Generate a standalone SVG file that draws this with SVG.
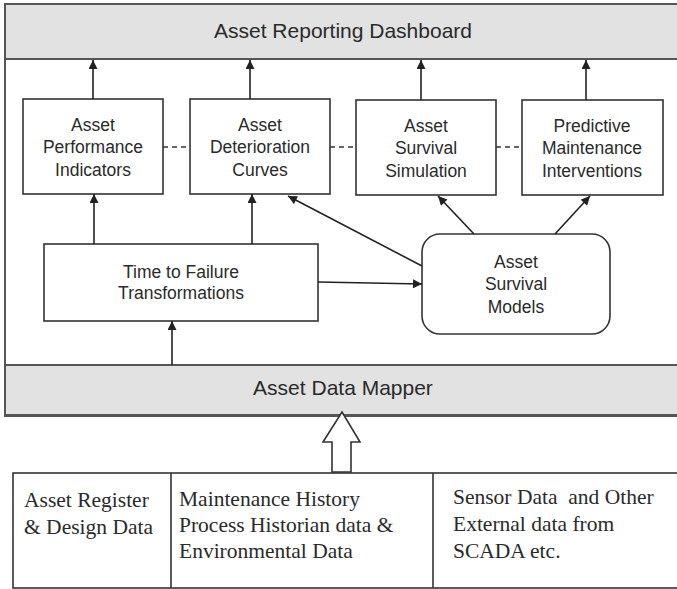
<svg xmlns="http://www.w3.org/2000/svg" width="677" height="589" viewBox="0 0 677 589">
  <style>
    .band { fill: #e2e2e2; stroke: #555; stroke-width: 2; }
    .frame { fill: #fff; stroke: #555; stroke-width: 2; }
    .box { fill: #fff; stroke: #333; stroke-width: 1.6; }
    .link { stroke: #222; stroke-width: 1.6; fill: none; }
    .dash { stroke: #333; stroke-width: 1.6; stroke-dasharray: 5 4; fill: none; }
    .sans { font-family: "Liberation Sans", Arial, sans-serif; fill: #2a2a2a; text-anchor: middle; }
    .band-label { font-size: 21px; }
    .node-label { font-size: 17.5px; }
    .serif { font-family: "Liberation Serif", "Times New Roman", serif; font-size: 21.5px; fill: #2a2a2a; white-space: pre; }
  </style>
  <defs>
    <marker id="arrow" viewBox="0 0 10 10" refX="10" refY="5" markerWidth="10" markerHeight="9" markerUnits="userSpaceOnUse" orient="auto">
      <path d="M0,0 L10,5 L0,10 z" fill="#222"/>
    </marker>
  </defs>

  <rect width="677" height="589" fill="#fff"/>

  <!-- outer platform frame -->
  <rect class="frame" x="5" y="4" width="700" height="412"/>

  <g id="dashboard">
    <rect class="band" x="5" y="4" width="700" height="55"/>
    <text class="sans band-label" x="343" y="38">Asset Reporting Dashboard</text>
  </g>

  <g id="data-mapper">
    <rect class="band" x="5" y="365" width="700" height="50"/>
    <text class="sans band-label" x="343" y="395">Asset Data Mapper</text>
  </g>

  <g id="performance-indicators">
    <rect class="box" x="23" y="99" width="140" height="95"/>
    <text class="sans node-label" x="93" y="131">Asset</text>
    <text class="sans node-label" x="93" y="153">Performance</text>
    <text class="sans node-label" x="93" y="176">Indicators</text>
  </g>

  <g id="deterioration-curves">
    <rect class="box" x="190" y="99" width="140" height="95"/>
    <text class="sans node-label" x="260" y="131">Asset</text>
    <text class="sans node-label" x="260" y="153">Deterioration</text>
    <text class="sans node-label" x="260" y="176">Curves</text>
  </g>

  <g id="survival-simulation">
    <rect class="box" x="356" y="100" width="140" height="95"/>
    <text class="sans node-label" x="426" y="132">Asset</text>
    <text class="sans node-label" x="426" y="154">Survival</text>
    <text class="sans node-label" x="426" y="177">Simulation</text>
  </g>

  <g id="predictive-maintenance">
    <rect class="box" x="522" y="100" width="141" height="95"/>
    <text class="sans node-label" x="592" y="132">Predictive</text>
    <text class="sans node-label" x="592" y="154">Maintenance</text>
    <text class="sans node-label" x="592" y="177">Interventions</text>
  </g>

  <g id="time-to-failure">
    <rect class="box" x="44" y="244" width="274" height="77"/>
    <text class="sans node-label" x="181" y="278">Time to Failure</text>
    <text class="sans node-label" x="181" y="299">Transformations</text>
  </g>

  <g id="survival-models">
    <rect class="box" x="422" y="234" width="188" height="100" rx="18" ry="18"/>
    <text class="sans node-label" x="516" y="268">Asset</text>
    <text class="sans node-label" x="516" y="290">Survival</text>
    <text class="sans node-label" x="516" y="313">Models</text>
  </g>

  <g id="connectors">
    <!-- up to the dashboard -->
    <line class="link" x1="93" y1="99" x2="93" y2="60" marker-end="url(#arrow)"/>
    <line class="link" x1="250" y1="99" x2="250" y2="60" marker-end="url(#arrow)"/>
    <line class="link" x1="421" y1="100" x2="421" y2="60" marker-end="url(#arrow)"/>
    <line class="link" x1="586" y1="100" x2="586" y2="60" marker-end="url(#arrow)"/>
    <!-- dashed peer links -->
    <line class="dash" x1="163" y1="147" x2="190" y2="147"/>
    <line class="dash" x1="330" y1="147" x2="356" y2="147"/>
    <line class="dash" x1="496" y1="147" x2="522" y2="147"/>
    <!-- transformations feed -->
    <line class="link" x1="94" y1="244" x2="94" y2="194" marker-end="url(#arrow)"/>
    <line class="link" x1="252" y1="244" x2="252" y2="194" marker-end="url(#arrow)"/>
    <line class="link" x1="172" y1="365" x2="172" y2="321" marker-end="url(#arrow)"/>
    <line class="link" x1="318" y1="282" x2="422" y2="284" marker-end="url(#arrow)"/>
    <!-- survival models outputs -->
    <line class="link" x1="422" y1="266" x2="288" y2="196" marker-end="url(#arrow)"/>
    <line class="link" x1="474" y1="234" x2="438" y2="196" marker-end="url(#arrow)"/>
    <line class="link" x1="555" y1="234" x2="590" y2="196" marker-end="url(#arrow)"/>
  </g>

  <!-- hollow block arrow from sources into the mapper -->
  <g id="source-arrow">
    <path d="M342,412 L360,442 L351,442 L351,472 L332,472 L332,442 L323,442 Z" fill="#fff" stroke="#333" stroke-width="1.6" stroke-linejoin="miter"/>
  </g>

  <g id="data-sources">
    <rect x="13" y="473" width="700" height="115" fill="#fff" stroke="#333" stroke-width="1.6"/>
    <line x1="171" y1="473" x2="171" y2="588" stroke="#333" stroke-width="1.6"/>
    <line x1="433" y1="473" x2="433" y2="588" stroke="#333" stroke-width="1.6"/>
    <text class="serif" x="24" y="507">Asset Register</text>
    <text class="serif" x="24" y="534">&amp; Design Data</text>
    <text class="serif" x="179" y="506">Maintenance History</text>
    <text class="serif" x="179" y="532">Process Historian data &amp;</text>
    <text class="serif" x="179" y="558">Environmental Data</text>
    <text class="serif" x="453" y="504">Sensor Data  and Other</text>
    <text class="serif" x="453" y="531">External data from</text>
    <text class="serif" x="453" y="558">SCADA etc.</text>
  </g>
</svg>
